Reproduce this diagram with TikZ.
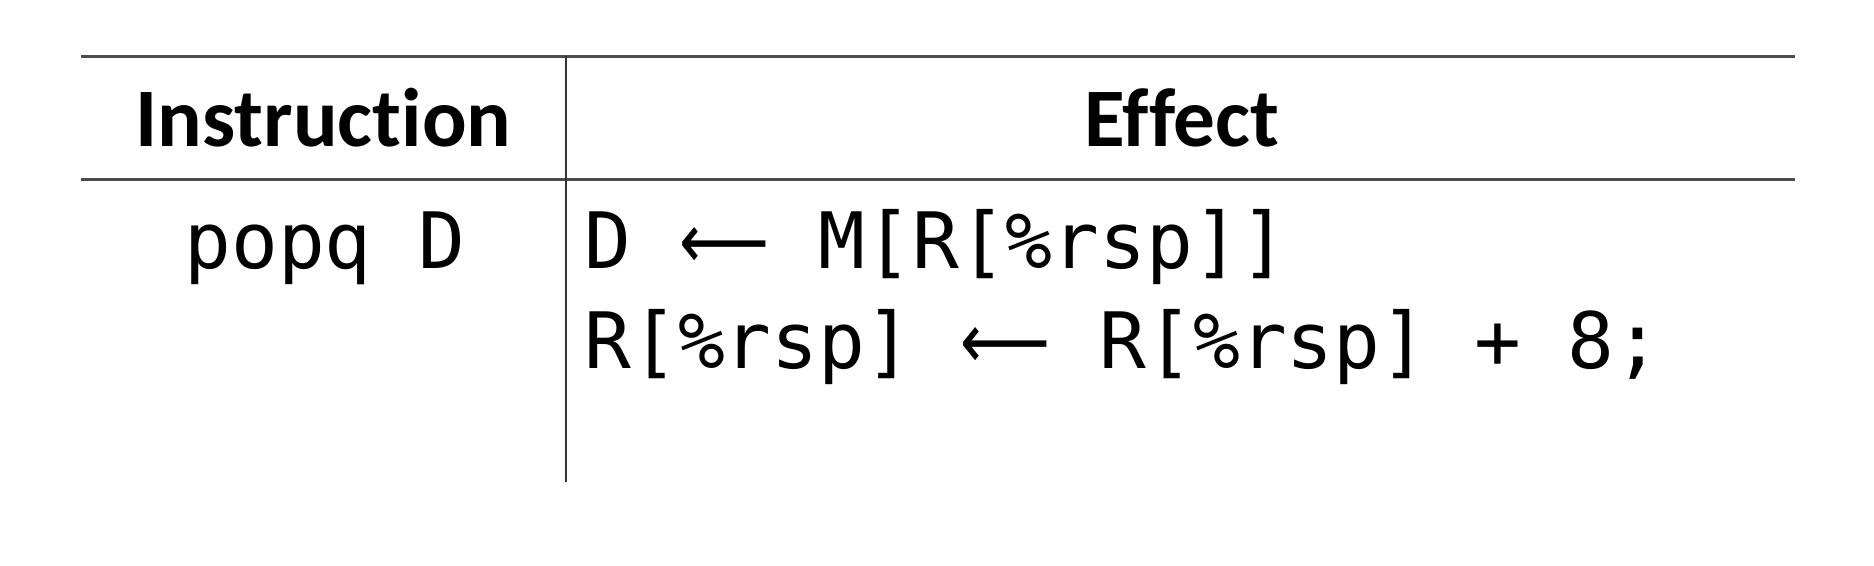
\documentclass[tikz,border=0pt]{standalone}
\usepackage{fontspec}
\usepackage{graphicx}
\newfontfamily\headfont[BoldFont={Carlito Bold},Ligatures=NoCommon]{Carlito}
\newfontfamily\codefont{DejaVu Sans Mono}
\newfontfamily\arrowfont{DejaVu Sans}
\newcommand{\lar}{\makebox[46.8pt][c]{\resizebox{45pt}{\height}{\arrowfont ⟵}}}
\tikzset{
  rulecol/.style={draw=black!70, line width=1.3pt},
  headtxt/.style={inner sep=0pt, anchor=base, font=\headfont\bfseries\fontsize{41.6pt}{49pt}\selectfont},
  codetxt/.style={inner sep=0pt, font=\codefont\fontsize{38.9pt}{50pt}\selectfont}
}
\begin{document}
\begin{tikzpicture}[x=0.5pt,y=-0.5pt]
\useasboundingbox (0,0) rectangle (1874,566);
\fill[white] (0,0) rectangle (1874,566);
% rules
\draw[rulecol] (81,56.5) -- (1795,56.5);
\draw[rulecol] (81,179.5) -- (1795,179.5);
\draw[draw=black!80, line width=1pt] (566,56.5) -- (566,482);
% headers
\node[headtxt] (hinstr) at (323.5,147) {Instruction};
\node[headtxt] (heff) at (1182,147) {Effect};
% body
\node[codetxt, anchor=base] (instr) at (325,269) {popq D};
\node[codetxt, anchor=base west] (eff1) at (584,269) {D \lar{} M[R[\%rsp]]};
\node[codetxt, anchor=base west] (eff2) at (584,369) {R[\%rsp] \lar{} R[\%rsp] + 8;};
\end{tikzpicture}
\end{document}
